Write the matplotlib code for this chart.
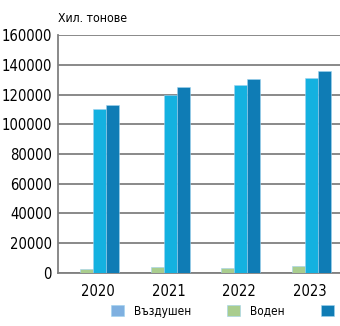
import numpy as np
import matplotlib
matplotlib.use("Agg")
import matplotlib.pyplot as plt

plt.rcParams['font.family'] = ['DejaVu Sans']
plt.rcParams['font.stretch'] = 'condensed'

years = ['2020', '2021', '2022', '2023']
air = [100, 100, 100, 100]
water = [2900, 3800, 3600, 4700]
road = [110000, 120000, 126500, 131000]
total = [113000, 125000, 130500, 135800]

colors = ['#7fb0e0', '#a9cd8e', '#14b1e0', '#0f7cb5']
series = [('Въздушен', air), ('Воден', water), ('Автомобилен', road), ('Общо', total)]

fig = plt.figure(figsize=(3.4, 3.26), dpi=100)
ax = fig.add_axes([0.1706, 0.1626, 0.8294, 0.73])

x = np.arange(len(years))
w = 0.184
bars = []
for i, (name, vals) in enumerate(series):
    b = ax.bar(x + (i - 1.5) * w, vals, w, color=colors[i], label=name,
               edgecolor='#9fd3ef', linewidth=0.4, zorder=3)
    bars.append(b)

ax.set_xlim(-0.5, 3.5)
ax.set_ylim(0, 160000)
ax.set_yticks(np.arange(0, 160001, 20000))
ax.set_yticklabels([str(v) for v in range(0, 160001, 20000)], fontsize=10.6)
ax.set_xticks(x + 0.07)
ax.set_xticklabels(years, fontsize=10.5)
ax.tick_params(length=0)
ax.tick_params(axis='y', pad=4.5)
ax.tick_params(axis='x', pad=8)
ax.grid(axis='y', color='#808080', linewidth=1.3, zorder=0)
for s in ['top', 'right']:
    ax.spines[s].set_visible(False)
ax.spines['left'].set_color('#808080')
ax.spines['bottom'].set_color('#808080')
ax.spines['left'].set_linewidth(1.3)
ax.spines['bottom'].set_linewidth(1.3)

fig.text(0.172, 0.943, 'Хил. тонове', fontsize=8.8, va='center', ha='left')

fig.legend([bars[0], bars[1], bars[3]],
           ['Въздушен', 'Воден', ''],
           ncol=3, loc='center left', bbox_to_anchor=(0.327, 0.046),
           frameon=False, fontsize=8.5, handlelength=1.1, handleheight=1.1,
           handletextpad=0.85, columnspacing=3.05, borderpad=0, borderaxespad=0)

fig.savefig('out.png', dpi=100)
